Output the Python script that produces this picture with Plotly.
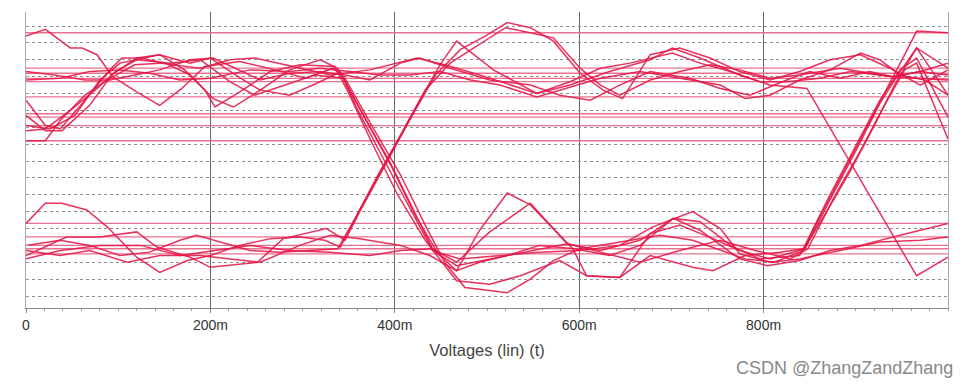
import plotly.graph_objects as go

# ---- time axis (ms) and tick labels ----
tick_vals = [0, 200, 400, 600, 800]
tick_text = ["0", "200m", "400m", "600m", "800m"]

# ---- flat reference levels (V) ----
flat_levels = [1.56, 1.35, 1.32, 1.29, 1.27, 1.18, 1.08, 1.06, 1.01, 0.92,
               0.43, 0.35, 0.30, 0.28, 0.25]

# ---- waveforms: time (ms) / voltage (V) ----
a1_t = [0,21,48,61,77,94,120,145,169,194,232,270,303,333,346,375,406,433,454,476,492,522,547,572,601,644,688,723,753,780,812,843,861,888,915,940,953,966,1000]
a1_v = [1.54,1.58,1.47,1.47,1.43,1.30,1.21,1.13,1.23,1.36,1.39,1.34,1.29,1.35,1.29,1.01,0.72,0.42,0.20,0.05,0.04,0.02,0.10,0.21,0.28,0.32,0.36,0.33,0.27,0.22,0.20,0.27,0.47,0.75,1.03,1.29,1.43,1.57,1.56]

a2_t = [0,21,37,64,91,104,124,151,178,203,225,254,286,319,338,364,395,420,441,467,492,522,557,595,633,666,702,731,764,796,839,863,894,920,943,966,1000]
a2_v = [1.16,1.01,0.99,1.16,1.34,1.41,1.41,1.38,1.31,1.17,1.12,1.22,1.34,1.40,1.35,1.09,0.79,0.51,0.28,0.15,0.20,0.24,0.30,0.28,0.24,0.30,0.46,0.44,0.30,0.22,0.24,0.45,0.74,1.01,1.26,1.47,1.35]

a3_t = [0,21,39,69,93,120,145,172,194,205,232,265,297,335,351,375,403,433,467,503,536,579,608,644,677,723,745,780,818,843,872,899,926,948,966,1000]
a3_v = [1.07,0.98,0.98,1.13,1.31,1.41,1.43,1.34,1.22,1.12,1.21,1.33,1.37,1.36,1.19,0.91,0.60,0.33,0.09,0.07,0.12,0.21,0.12,0.11,0.24,0.17,0.15,0.24,0.26,0.28,0.60,0.88,1.16,1.34,1.41,1.06]

a4_t = [0,26,53,80,102,145,178,200,227,254,286,319,341,359,389,416,441,467,503,547,587,623,666,709,753,791,829,848,877,905,932,953,966,1000]
a4_v = [1.01,0.99,1.07,1.28,1.38,1.43,1.38,1.41,1.31,1.22,1.19,1.27,1.33,1.11,0.80,0.52,0.27,0.18,0.22,0.27,0.31,0.26,0.20,0.27,0.33,0.27,0.22,0.28,0.59,0.86,1.14,1.34,1.38,0.93]

a5_t = [0,21,48,75,97,120,156,189,221,248,281,313,344,368,397,422,446,471,514,557,601,644,680,723,753,774,807,839,883,926,970,1000]
a5_v = [0.98,0.99,1.10,1.22,1.33,1.40,1.38,1.40,1.27,1.19,1.25,1.31,1.29,1.05,0.76,0.48,0.26,0.22,0.24,0.26,0.27,0.30,0.41,0.50,0.40,0.25,0.20,0.22,0.27,0.32,0.33,0.35]

a6_t = [0,21,37,64,91,118,145,189,221,248,281,330,373,424,454,492,554,590,633,677,701,731,774,807,847,888,926,966,1000]
a6_v = [0.92,0.92,1.04,1.19,1.29,1.37,1.38,1.35,1.40,1.41,1.37,1.31,1.34,1.41,1.37,1.31,1.20,1.25,1.33,1.40,1.47,1.41,1.31,1.25,1.23,0.85,0.49,0.12,0.23]

a7_t = [0,37,69,102,134,167,200,243,286,319,351,384,416,449,482,514,554,579,623,666,709,753,780,807,839,872,905,926,948,975,1000]
a7_v = [1.28,1.29,1.33,1.34,1.32,1.28,1.29,1.34,1.33,1.35,1.33,1.31,1.31,1.33,1.28,1.25,1.18,1.22,1.29,1.33,1.29,1.25,1.17,1.19,1.28,1.34,1.44,1.40,1.31,1.28,1.19]

a8_t = [0,31,64,91,118,145,178,203,227,254,286,319,346,373,406,427,460,503,547,579,612,644,677,720,753,785,825,850,883,915,940,970,1000]
a8_v = [1.33,1.31,1.28,1.28,1.31,1.34,1.40,1.41,1.35,1.28,1.32,1.33,1.31,1.28,1.38,1.41,1.35,1.28,1.25,1.19,1.16,1.25,1.33,1.29,1.23,1.19,1.28,1.33,1.29,1.33,1.30,1.33,1.38]

b1_t = [0,21,39,66,88,120,145,175,200,232,265,297,324,341,362,384,406,427,449,467,507,554,590,623,655,701,731,764,796,825,861,894,940,970,1000]
b1_v = [0.43,0.55,0.55,0.51,0.41,0.23,0.14,0.21,0.24,0.30,0.34,0.35,0.33,0.29,0.51,0.73,0.95,1.16,1.37,1.51,1.34,1.20,1.27,1.35,1.38,1.44,1.38,1.33,1.27,1.27,1.29,1.33,1.30,1.29,1.28]

b2_t = [0,44,80,120,142,178,200,251,279,326,346,362,389,416,444,471,498,522,547,572,601,626,647,677,709,742,774,807,839,872,905,937,970,1000]
b2_v = [0.24,0.35,0.35,0.38,0.29,0.23,0.17,0.20,0.34,0.40,0.33,0.50,0.77,1.04,1.31,1.46,1.54,1.62,1.59,1.51,1.32,1.22,1.17,1.43,1.47,1.41,1.33,1.28,1.33,1.40,1.43,1.35,1.25,1.34]

b3_t = [0,37,69,102,134,167,185,210,243,275,308,338,357,382,406,433,460,492,520,547,572,601,623,644,677,709,742,774,807,839,883,940,970,1000]
b3_v = [0.30,0.33,0.30,0.24,0.26,0.33,0.36,0.32,0.27,0.26,0.27,0.28,0.46,0.72,0.95,1.22,1.38,1.49,1.59,1.56,1.53,1.35,1.25,1.19,1.28,1.33,1.37,1.34,1.29,1.31,1.35,1.30,1.33,1.31]

b4_t = [0,37,69,110,145,189,221,254,297,330,362,406,438,467,492,522,547,579,593,608,644,677,709,745,774,807,845,872,899,926,948,966,1000]
b4_v = [0.27,0.24,0.27,0.20,0.24,0.24,0.22,0.20,0.30,0.36,0.34,0.30,0.24,0.15,0.39,0.61,0.54,0.36,0.28,0.12,0.11,0.37,0.42,0.34,0.27,0.22,0.28,0.57,0.85,1.14,1.33,1.47,1.19]

b5_t = [0,37,80,124,167,203,243,286,330,373,406,441,467,503,547,587,623,666,702,731,774,804,839,872,905,948,1000]
b5_v = [0.22,0.27,0.30,0.30,0.24,0.27,0.30,0.27,0.26,0.24,0.27,0.28,0.20,0.38,0.55,0.31,0.27,0.33,0.46,0.39,0.22,0.18,0.21,0.27,0.30,0.36,0.43]

waves = [(a1_t, a1_v), (a2_t, a2_v), (a3_t, a3_v), (a4_t, a4_v), (a5_t, a5_v),
         (a6_t, a6_v), (a7_t, a7_v), (a8_t, a8_v), (b1_t, b1_v), (b2_t, b2_v),
         (b3_t, b3_v), (b4_t, b4_v), (b5_t, b5_v)]

FLAT_COLOR = "rgba(232,105,138,0.95)"
WAVE_COLOR = "rgba(228,22,70,0.88)"

fig = go.Figure()
for lv in flat_levels:
    fig.add_trace(go.Scatter(x=[0, 1000], y=[lv, lv], mode="lines",
                             line=dict(color=FLAT_COLOR, width=1.3),
                             hoverinfo="skip", showlegend=False))
for t, v in waves:
    fig.add_trace(go.Scatter(x=t, y=v, mode="lines",
                             line=dict(color=WAVE_COLOR, width=1.5),
                             showlegend=False))

fig.update_layout(
    width=957, height=374,
    margin=dict(l=18, r=17, t=4, b=74),
    plot_bgcolor="white", paper_bgcolor="white",
    font=dict(family="Liberation Sans, Arial, sans-serif", color="#333"),
    xaxis=dict(
        range=[0, 1000], tickvals=tick_vals, ticktext=tick_text,
        showgrid=True, gridcolor="#666", gridwidth=1,
        zeroline=False, showline=True, linecolor="#888", linewidth=1,
        ticks="outside", ticklen=4, tickcolor="#888",
        minor=dict(dtick=20, ticks="outside", ticklen=2, tickcolor="#999", showgrid=False),
        tickfont=dict(size=14, color="#333"),
        title=dict(text="Voltages (lin) (t)", font=dict(size=16.5, color="#444"), standoff=12),
    ),
    yaxis=dict(
        range=[-0.071, 1.683], tick0=0, dtick=0.1,
        showgrid=True, gridcolor="#8f8f8f", gridwidth=1, griddash="dot",
        zeroline=False, showticklabels=False,
        showline=True, linecolor="#aaa", linewidth=1, mirror=True,
        ticks="inside", ticklen=3, tickcolor="#999",
    ),
    annotations=[dict(text="CSDN @ZhangZandZhang", xref="paper", yref="paper",
                      x=0.768, y=-0.203, xanchor="left", yanchor="middle",
                      showarrow=False, font=dict(size=18, color="#888"))],
)

fig.write_html("out.html")
